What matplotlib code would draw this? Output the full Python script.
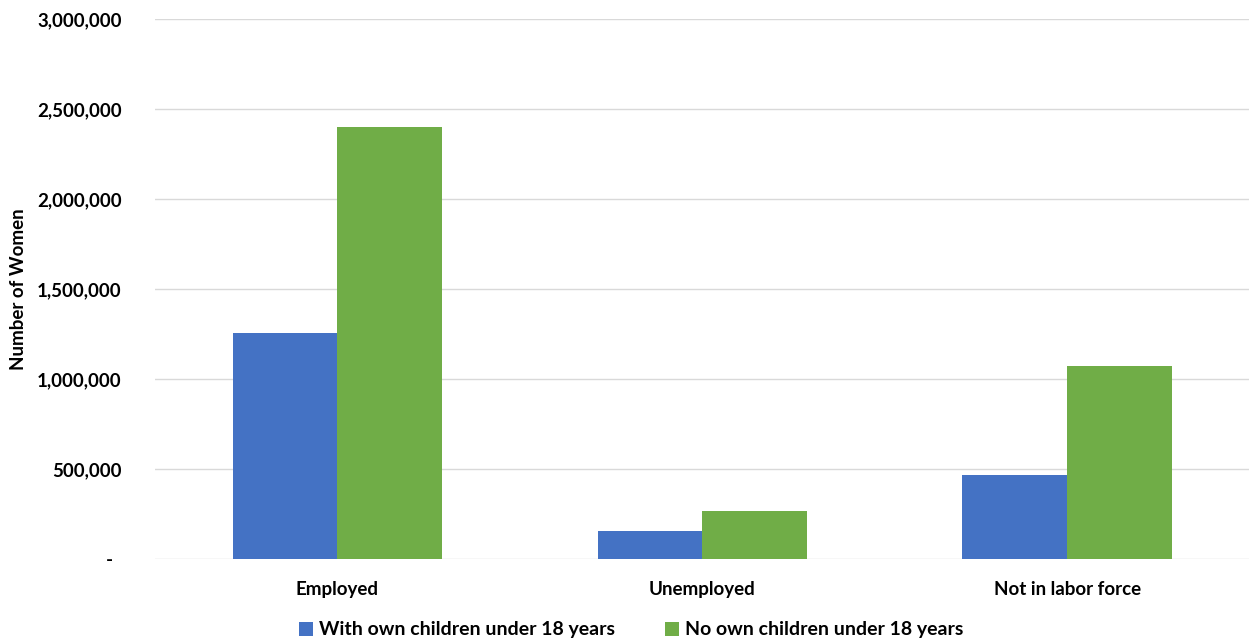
import numpy as np
import matplotlib.pyplot as plt
from matplotlib.ticker import FuncFormatter

categories = ['Employed', 'Unemployed', 'Not in labor force']
with_children = [1255000, 155000, 467000]
no_children = [2400000, 267000, 1072000]
series_names = ['With own children under 18 years', 'No own children under 18 years']

plt.rcParams['font.family'] = ['Lato', 'DejaVu Sans']

fig = plt.figure(figsize=(12.52, 6.4), dpi=100)
ax = fig.add_axes([0.1238, 0.1266, 0.8742, 0.8434])

x = np.arange(len(categories))
w = 0.287
ax.bar(x - w / 2, with_children, w, color='#4472C4', label=series_names[0], zorder=3)
ax.bar(x + w / 2, no_children, w, color='#70AD47', label=series_names[1], zorder=3)

ax.set_xlim(-0.5, 2.5)
ax.set_ylim(0, 3000000)
ax.set_yticks(np.arange(0, 3000001, 500000))
ax.yaxis.set_major_formatter(FuncFormatter(lambda v, p: '-  ' if v == 0 else f'{int(v):,}'))
ax.grid(axis='y', color='#d9d9d9', linewidth=1, zorder=0)
ax.set_xticks(x)
ax.set_xticklabels(categories)

for s in ax.spines.values():
    s.set_visible(False)
ax.tick_params(length=0)
ax.tick_params(axis='y', pad=24, labelsize=13.5)
ax.tick_params(axis='x', pad=16, labelsize=13.5)
for lbl in ax.get_yticklabels() + ax.get_xticklabels():
    lbl.set_fontweight('bold')

ax.set_ylabel('Number of Women', fontsize=13.5, fontweight='bold')
ax.yaxis.set_label_coords(-0.117, 0.5)

fig.legend(loc='lower center', bbox_to_anchor=(0.504, -0.025), ncol=2, frameon=False,
           prop={'size': 14, 'weight': 'bold'}, handlelength=0.7, handleheight=0.7,
           handletextpad=0.3, columnspacing=2.6)

fig.savefig('out.png', dpi=100)
